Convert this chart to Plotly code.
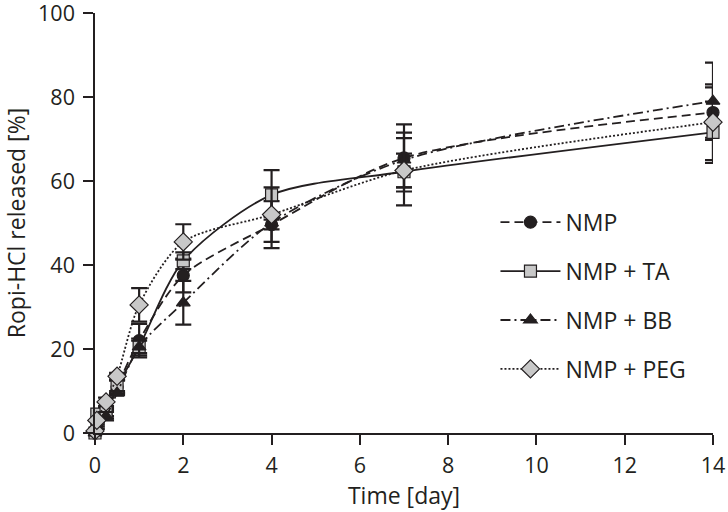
import plotly.graph_objects as go

days = [0, 0.042, 0.25, 0.5, 1, 2, 4, 7, 14]

nmp = [0, 2, 4.5, 11, 22, 37.5, 49.6, 65.5, 76.3]
nmp_err = [0, 0.5, 1, 1.5, 4, 4, 5.6, 8, 6]

ta = [0, 4.5, 5, 11, 20.5, 41, 56.7, 62.2, 71.6]
ta_err = [0, 0.5, 1, 1.5, 2, 2, 5.9, 8, 7.3]

bb = [0, 1.5, 4, 9.5, 20.5, 31, 50, 65, 79]
bb_err = [0, 0.5, 1, 0.5, 1.5, 5.2, 1.5, 6.5, 9.2]

peg = [0.5, 3, 7.4, 13.5, 30.5, 45.5, 52, 62.5, 74]
peg_err = [0, 0.5, 1, 0.8, 4, 4.2, 6.5, 4, 9]

names = ["NMP", "NMP + TA", "NMP + BB", "NMP + PEG"]
x_ticks = [0, 2, 4, 6, 8, 10, 12, 14]
y_ticks = [0, 20, 40, 60, 80, 100]

DARK = "#231f20"
GRAY = "#c8c8c8"
FONT = "Open Sans"

series = [
    (names[0], nmp, nmp_err, "9px,5px", "circle", DARK),
    (names[1], ta, ta_err, "solid", "square", GRAY),
    (names[2], bb, bb_err, "10px,4px,2px,4px", "triangle-up", DARK),
    (names[3], peg, peg_err, "2px,2px", "diamond", GRAY),
]

fig = go.Figure()
for i, (nm, vals, errs, dash, sym, fill) in enumerate(series):
    fig.add_trace(go.Scatter(
        x=days, y=vals, name=nm, mode="lines+markers",
        line=dict(color=DARK, width=1.8, dash=dash, shape="spline", smoothing=0.8),
        marker=dict(symbol=sym, size=12 if sym != "diamond" else 14, color=fill,
                    line=dict(color=DARK, width=1.2)),
        error_y=dict(type="data", array=errs, visible=True, color=DARK,
                     thickness=2.2, width=8),
        cliponaxis=False, legendgroup="g%d" % i,
    ))

axis_common = dict(showgrid=False, zeroline=False, color=DARK, automargin=False,
                   ticklabeloverflow="allow")
title_font = dict(family=FONT, size=23, color=DARK)
fig.update_layout(
    width=728, height=512,
    margin=dict(l=95, r=15, t=13, b=79),
    paper_bgcolor="white", plot_bgcolor="white",
    font=dict(family=FONT, size=21.5, color=DARK),
    showlegend=True,
    legend=dict(x=0.648, y=0.553, xanchor="left", yanchor="top",
                font=dict(family=FONT, size=23, color=DARK), itemwidth=60,
                tracegroupgap=16, bgcolor="rgba(0,0,0,0)"),
    xaxis=dict(range=[0, 14], tickvals=x_ticks, ticks="outside", ticklen=10,
               tickwidth=1.5, tickcolor=DARK, showline=True, linecolor=DARK,
               linewidth=1.5, ticklabelstandoff=2,
               title=dict(text="Time [day]", standoff=8, font=title_font),
               **axis_common),
    yaxis=dict(range=[0, 100], tickvals=y_ticks, ticks="outside", ticklen=10,
               tickwidth=1.5, tickcolor=DARK, showline=True, linecolor=DARK,
               linewidth=1.5, ticklabelstandoff=4,
               title=dict(text="Ropi-HCl released [%]", standoff=23, font=title_font),
               **axis_common),
    xaxis2=dict(range=[0, 14], tickvals=x_ticks, ticks="inside", ticklen=9,
                tickwidth=1.5, tickcolor=DARK, showticklabels=False,
                overlaying="x", anchor="y", showline=False, **axis_common),
    yaxis2=dict(range=[0, 100], tickvals=y_ticks, ticks="inside", ticklen=9,
                tickwidth=1.5, tickcolor=DARK, showticklabels=False,
                overlaying="y", anchor="x", showline=False, **axis_common),
)

fig.write_html("out.html", config={"displayModeBar": False},
               post_script="document.body.style.margin='0px';document.body.style.overflow='hidden';")
